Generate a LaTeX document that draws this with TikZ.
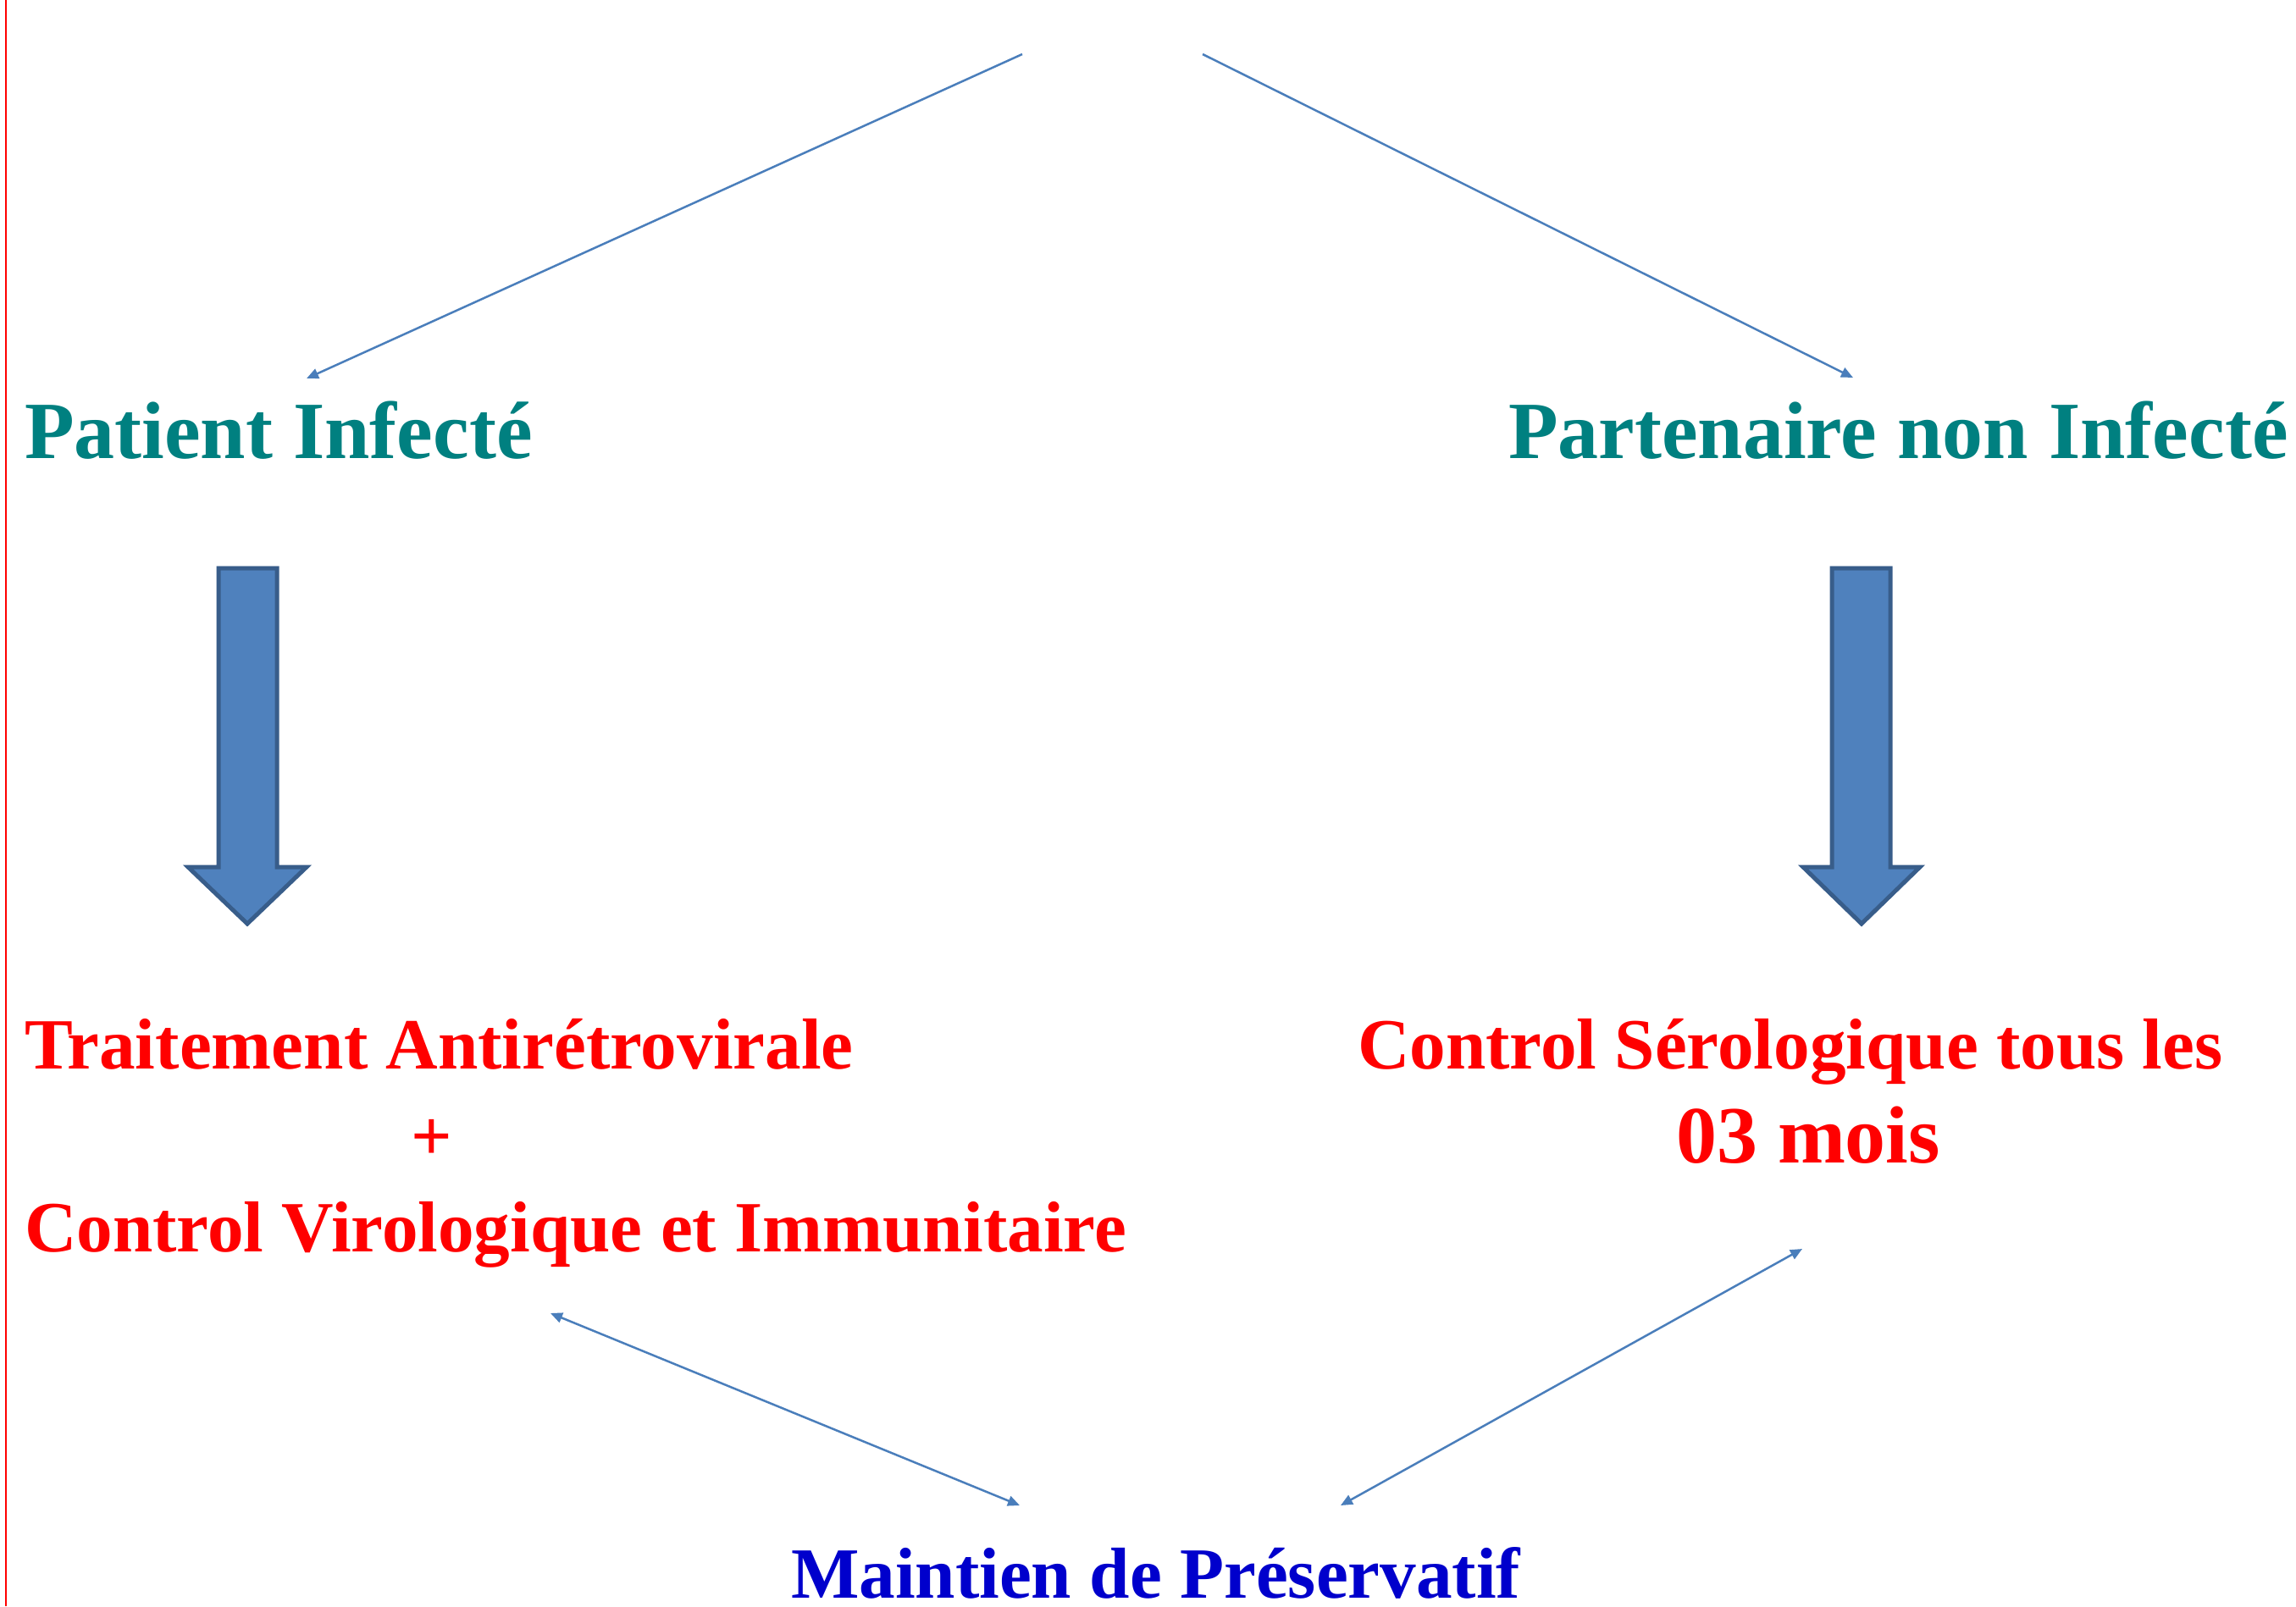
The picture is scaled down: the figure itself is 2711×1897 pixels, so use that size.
\documentclass[tikz,border=0pt]{standalone}
\usepackage{fontspec}
\setmainfont{Liberation Serif}
\usetikzlibrary{arrows.meta}
\definecolor{tealtxt}{HTML}{008080}
\definecolor{redtxt}{HTML}{FF0000}
\definecolor{bluetxt}{HTML}{0000CC}
\definecolor{linkblue}{HTML}{4A7EBB}
\definecolor{blockfill}{HTML}{4F81BD}
\definecolor{blockline}{HTML}{385D8A}
\tikzset{
  lbl/.style={inner sep=0pt, outer sep=0pt, anchor=base west, font=\bfseries},
  bigtxt/.style={lbl, font=\fontsize{48pt}{54pt}\selectfont\bfseries},
  midtxt/.style={lbl, font=\fontsize{42.6pt}{50pt}\selectfont\bfseries},
  link/.style={draw=linkblue, line width=1.25pt, -{Triangle[length=7pt,width=6pt]}},
  dlink/.style={draw=linkblue, line width=1.25pt, {Triangle[length=7pt,width=6pt]}-{Triangle[length=7pt,width=6pt]}},
  blockarrow/.style={fill=blockfill, draw=blockline, line width=2.5pt, line join=miter}
}
\begin{document}
\begin{tikzpicture}[x=0.5pt,y=-0.5pt]
\useasboundingbox (0,0) rectangle (2711,1897);
\fill[white] (0,0) rectangle (2711,1897);
% left red margin line
\draw[red, line width=0.8pt] (7,0) -- (7,1897);

% text nodes
\node[bigtxt, text=tealtxt] (pat) at (29,541) {Patient Infecté};
\node[bigtxt, text=tealtxt] (part) at (1781,541) {Partenaire non Infecté};
\node[midtxt, text=redtxt] (trt) at (29,1262) {Traitement Antirétrovirale};
\node[midtxt, text=redtxt] (plus) at (485,1370) {+};
\node[midtxt, text=redtxt] (cvi) at (29,1478) {Control Virologique et Immunitaire};
\node[midtxt, text=redtxt] (sero) at (1603,1262) {Control Sérologique tous les};
\node[bigtxt, text=redtxt] (mois) at (1979,1373) {03 mois};
\node[midtxt, text=bluetxt, text depth=0pt] (pres) at (934,1887) {Maintien de Préservatif};

% connector end points
\coordinate (topL) at (1207,64);
\coordinate (topR) at (1420,64);
\coordinate (patIn) at (362,447);
\coordinate (partIn) at (2188,446);
\coordinate (cviOut) at (650,1551);
\coordinate (presL) at (1204,1778);
\coordinate (presR) at (1583,1778);
\coordinate (seroOut) at (2128,1475);

\draw[link] (topL) -- (patIn);
\draw[link] (topR) -- (partIn);
\draw[dlink] (cviOut) -- (presL);
\draw[dlink] (presR) -- (seroOut);

% block arrows
\draw[blockarrow] (258,671) -- (327,671) -- (327,1024) -- (362,1024) -- (292,1091) -- (222,1024) -- (258,1024) -- cycle;
\draw[blockarrow] (2163,671) -- (2232,671) -- (2232,1024) -- (2267,1024) -- (2198,1091) -- (2129,1024) -- (2163,1024) -- cycle;
\end{tikzpicture}
\end{document}
